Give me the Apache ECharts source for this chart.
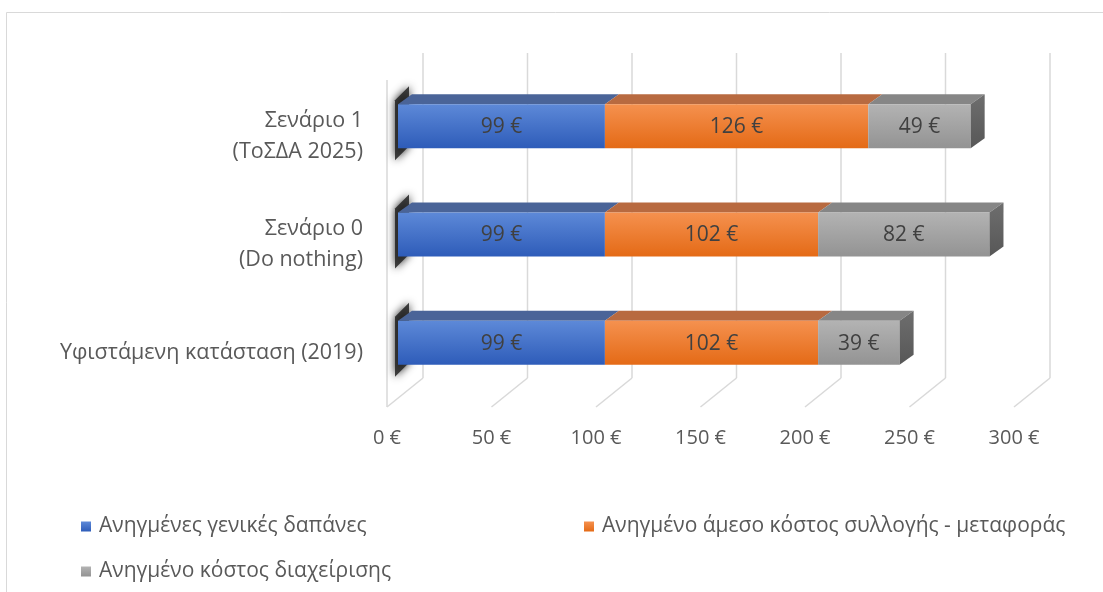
<!DOCTYPE html>
<html>
<head>
<meta charset="utf-8">
<script src="https://cdn.jsdelivr.net/npm/echarts@6/dist/echarts.min.js"></script>
<style>
html,body{margin:0;padding:0;background:#fff;}
#chart{width:1103px;height:592px;}
</style>
</head>
<body>
<div id="chart"></div>
<script>
// ---- data ----
const categories = ['Υφιστάμενη κατάσταση (2019)', 'Σενάριο 0\n(Do nothing)', 'Σενάριο 1\n(ΤοΣΔΑ 2025)'];
const seriesNames = ['Ανηγμένες γενικές δαπάνες', 'Ανηγμένο άμεσο κόστος συλλογής - μεταφοράς', 'Ανηγμένο κόστος διαχείρισης'];
const generalCosts = [99, 99, 99];
const collectionCosts = [102, 102, 126];
const managementCosts = [39, 82, 49];
const xTicks = [0, 50, 100, 150, 200, 250, 300];

// ---- styling ----
const FONT = '"Open Sans", "Noto Sans", sans-serif';
const TXT = '#595959';
const DEPTH = [36, -29];      // full floor depth (front -> back)
const BAR_OFF = [11, -10];    // bar front face offset from front plane
const BAR_D = [14, -10];      // bar depth
const BAR_H = 44;

function vgrad(c0, c1) {
  return new echarts.graphic.LinearGradient(0, 0, 0, 1, [{offset: 0, color: c0}, {offset: 1, color: c1}]);
}
const palettes = [
  {front: ['#5d89d8', '#2e5cb9'], top: '#4a6498', right: ['#3a558e', '#2c4478']},
  {front: ['#f5914f', '#e46a16'], top: '#b86a40', right: ['#b0582a', '#9a4a20']},
  {front: ['#b3b3b3', '#939393'], top: '#868686', right: ['#6e6e6e', '#575757']}
];

const valueArrays = [generalCosts, collectionCosts, managementCosts];
// stacked data: [categoryIndex, start, end, value]
const stackedData = valueArrays.map(() => []);
categories.forEach((c, ci) => {
  let acc = 0;
  valueArrays.forEach((arr, si) => {
    stackedData[si].push([ci, acc, acc + arr[ci], arr[ci]]);
    acc += arr[ci];
  });
});

function barRender(si) {
  const pal = palettes[si];
  const isLast = si === valueArrays.length - 1;
  return function (params, api) {
    const ci = api.value(0), s = api.value(1), e = api.value(2), v = api.value(3);
    const p0 = api.coord([s, ci]);
    const p1 = api.coord([e, ci]);
    const fx0 = p0[0] + BAR_OFF[0], fx1 = p1[0] + BAR_OFF[0];
    const cy = p0[1] + BAR_OFF[1];
    const fy0 = cy - BAR_H / 2, fy1 = cy + BAR_H / 2;
    const children = [];
    children.push({
      type: 'polygon',
      shape: {points: [[fx0, fy0], [fx1, fy0], [fx1 + BAR_D[0], fy0 + BAR_D[1]], [fx0 + BAR_D[0], fy0 + BAR_D[1]]]},
      style: {fill: pal.top}
    });
    children.push({
      type: 'rect',
      shape: {x: fx0, y: fy0, width: fx1 - fx0, height: BAR_H},
      style: {fill: vgrad(pal.front[0], pal.front[1])}
    });
    if (isLast) {
      children.push({
        type: 'polygon',
        shape: {points: [[fx1, fy0], [fx1 + BAR_D[0], fy0 + BAR_D[1]], [fx1 + BAR_D[0], fy1 + BAR_D[1]], [fx1, fy1]]},
        style: {fill: vgrad(pal.right[0], pal.right[1])}
      });
    }
    children.push({
      type: 'text',
      style: {
        text: v + ' €', x: (fx0 + fx1) / 2, y: cy + 1,
        align: 'center', verticalAlign: 'middle',
        fill: '#404040', fontSize: 21, fontFamily: FONT
      }
    });
    return {type: 'group', children: children};
  };
}

function gridRender(params, api) {
  const v = api.value(0);
  const x = api.coord([v, 0])[0];
  const cs = params.coordSys;
  const top = cs.y, bottom = cs.y + cs.height;
  const ls = {stroke: '#d9d9d9', lineWidth: 1.5};
  const children = [
    {type: 'line', shape: {x1: x + DEPTH[0], y1: top + DEPTH[1], x2: x + DEPTH[0], y2: bottom + DEPTH[1]}, style: ls},
    {type: 'line', shape: {x1: x + DEPTH[0], y1: bottom + DEPTH[1], x2: x, y2: bottom}, style: ls}
  ];
  if (v === 0) {
    children.push({type: 'line', shape: {x1: x, y1: top - 2, x2: x, y2: bottom}, style: ls});
  }
  return {type: 'group', children: children};
}

function shadowRender(params, api) {
  const ci = api.value(0);
  const p = api.coord([0, ci]);
  const x0 = p[0] + 8;
  const cy = p[1] + BAR_OFF[1];
  const fy0 = cy - BAR_H / 2, fy1 = cy + BAR_H / 2;
  return {
    type: 'polygon',
    shape: {points: [[x0, fy0 - 4], [x0 + 14, fy0 - 18], [x0 + 14, fy1 - 2], [x0, fy1 + 12]]},
    style: {fill: 'rgba(35,35,35,0.85)', shadowBlur: 9, shadowColor: 'rgba(0,0,0,1)'}
  };
}

const chart = echarts.init(document.getElementById('chart'), null, {renderer: 'canvas'});

const series = [
  {
    type: 'custom', name: '_grid', silent: true, z: 1,
    renderItem: gridRender,
    data: xTicks.map(t => [t, 0]),
    encode: {x: 0, y: 1}
  },
  {
    type: 'custom', name: '_shadow', silent: true, z: 2,
    renderItem: shadowRender,
    data: categories.map((c, i) => [i, 0]),
    encode: {x: 1, y: 0}
  }
];

seriesNames.forEach((name, si) => {
  series.push({
    type: 'custom', name: name, z: 3 + si,
    renderItem: barRender(si),
    data: stackedData[si],
    encode: {y: 0, x: [1, 2]},
    itemStyle: {color: vgrad(palettes[si].front[0], palettes[si].front[1])}
  });
});

const legendCommon = {
  orient: 'horizontal', itemWidth: 10, itemHeight: 10, icon: 'rect',
  textStyle: {color: TXT, fontSize: 21, fontFamily: FONT, padding: [0, 0, 0, 3]},
  selectedMode: false
};

chart.setOption({
  animation: false,
  backgroundColor: '#fff',
  graphic: [{
    type: 'rect', left: 4, top: 10, silent: true, z: -10,
    shape: {width: 1200, height: 700},
    style: {fill: 'none', stroke: '#d9d9d9', lineWidth: 1}
  }],
  grid: {left: 387, top: 82, width: 627, height: 325, containLabel: false},
  xAxis: {
    type: 'value', min: 0, max: 300, interval: 50,
    axisLine: {show: false}, axisTick: {show: false}, splitLine: {show: false},
    axisLabel: {formatter: '{value} €', color: TXT, fontSize: 20, fontFamily: FONT, margin: 21}
  },
  yAxis: {
    type: 'category', data: categories,
    axisLine: {show: false}, axisTick: {show: false}, splitLine: {show: false},
    axisLabel: {color: TXT, fontSize: 21.5, fontFamily: FONT, margin: 24, lineHeight: 31, align: 'right'}
  },
  legend: [
    Object.assign({}, legendCommon, {left: 76, top: 511, data: [seriesNames[0]]}),
    Object.assign({}, legendCommon, {left: 579, top: 511, data: [seriesNames[1]]}),
    Object.assign({}, legendCommon, {left: 76, top: 556, data: [seriesNames[2]]})
  ],
  series: series
});
</script>
</body>
</html>
